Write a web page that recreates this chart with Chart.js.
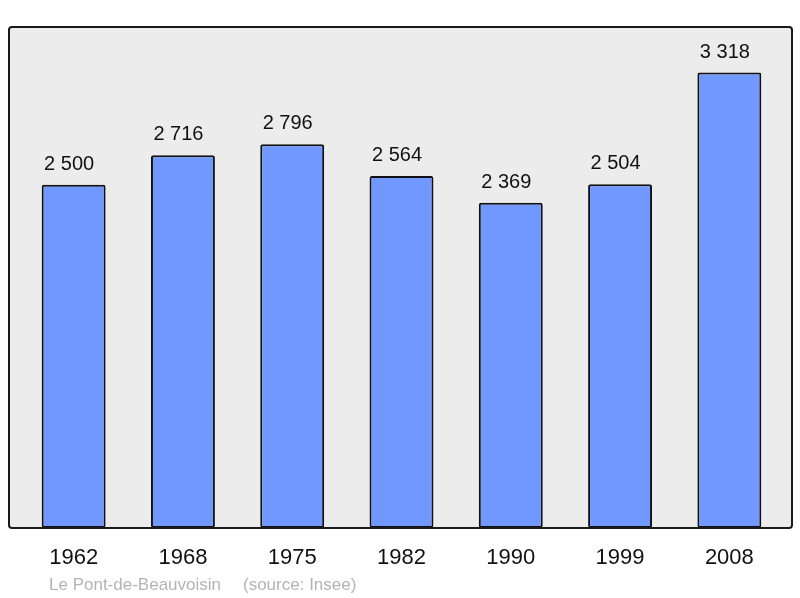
<!DOCTYPE html>
<html>
<head>
<meta charset="utf-8">
<script src="https://cdn.jsdelivr.net/npm/chart.js@4/dist/chart.umd.min.js"></script>
<style>
  html, body { margin: 0; padding: 0; background: #fff; }
  #wrap { width: 800px; height: 598px; }
</style>
</head>
<body>
<div id="wrap"><canvas id="popChart" width="800" height="598"></canvas></div>
<script>
var years = ['1962', '1968', '1975', '1982', '1990', '1999', '2008']
var population = [2500, 2716, 2796, 2564, 2369, 2504, 3318]
var townName = 'Le Pont-de-Beauvoisin'
var sourceText = '(source: Insee)'

const FONT = "'Liberation Sans', Arial, sans-serif"

function formatNumber(n) {
    return String(n).replace(/\B(?=(\d{3})+(?!\d))/g, ' ')
}

// grey frame behind the bars
const framePlugin = {
    id: 'frame',
    beforeDraw(chart) {
        const ctx = chart.ctx
        const a = chart.chartArea
        const x = a.left - 10, y = a.top, w = a.right - a.left + 18, h = a.bottom - a.top
        ctx.save()
        ctx.beginPath()
        ctx.roundRect(x, y, w, h, 3)
        ctx.fillStyle = '#ececec'
        ctx.fill()
        ctx.restore()
    },
    afterDatasetsDraw(chart) {
        const ctx = chart.ctx
        const a = chart.chartArea
        const x = a.left - 10, y = a.top, w = a.right - a.left + 18, h = a.bottom - a.top
        ctx.save()
        ctx.beginPath()
        ctx.roundRect(x, y, w, h, 3)
        ctx.lineWidth = 2
        ctx.strokeStyle = '#1a1a1a'
        ctx.stroke()

        // values above bars
        const meta = chart.getDatasetMeta(0)
        ctx.fillStyle = '#111'
        ctx.font = '20px ' + FONT
        ctx.textAlign = 'center'
        ctx.textBaseline = 'alphabetic'
        meta.data.forEach((bar, i) => {
            ctx.fillText(formatNumber(population[i]), bar.x - 4.5, bar.y - 15)
        })

        // footer
        ctx.fillStyle = '#b4b4b4'
        ctx.font = '17px ' + FONT
        ctx.textAlign = 'left'
        ctx.fillText(townName, a.left + 30, chart.height - 8)
        ctx.fillText(sourceText, a.left + 224, chart.height - 8)
        ctx.restore()
    }
}

new Chart(document.getElementById('popChart'), {
    type: 'bar',
    data: {
        labels: years,
        datasets: [{
            data: population,
            backgroundColor: '#7098ff',
            borderColor: '#111',
            borderWidth: 2,
            borderRadius: 2,
            borderSkipped: false,
            barPercentage: 0.585,
            categoryPercentage: 1
        }]
    },
    options: {
        responsive: false,
        animation: false,
        layout: { padding: { left: 19, right: 16, top: 27, bottom: 0 } },
        plugins: { legend: { display: false }, tooltip: { enabled: false } },
        scales: {
            x: {
                grid: { display: false },
                border: { display: false },
                ticks: { color: '#111', font: { size: 22, family: FONT }, padding: 9, maxRotation: 0 },
                afterFit(scale) { scale.height = 70 }
            },
            y: {
                display: false,
                min: 0,
                max: 3650
            }
        }
    },
    plugins: [framePlugin]
})
</script>
</body>
</html>
